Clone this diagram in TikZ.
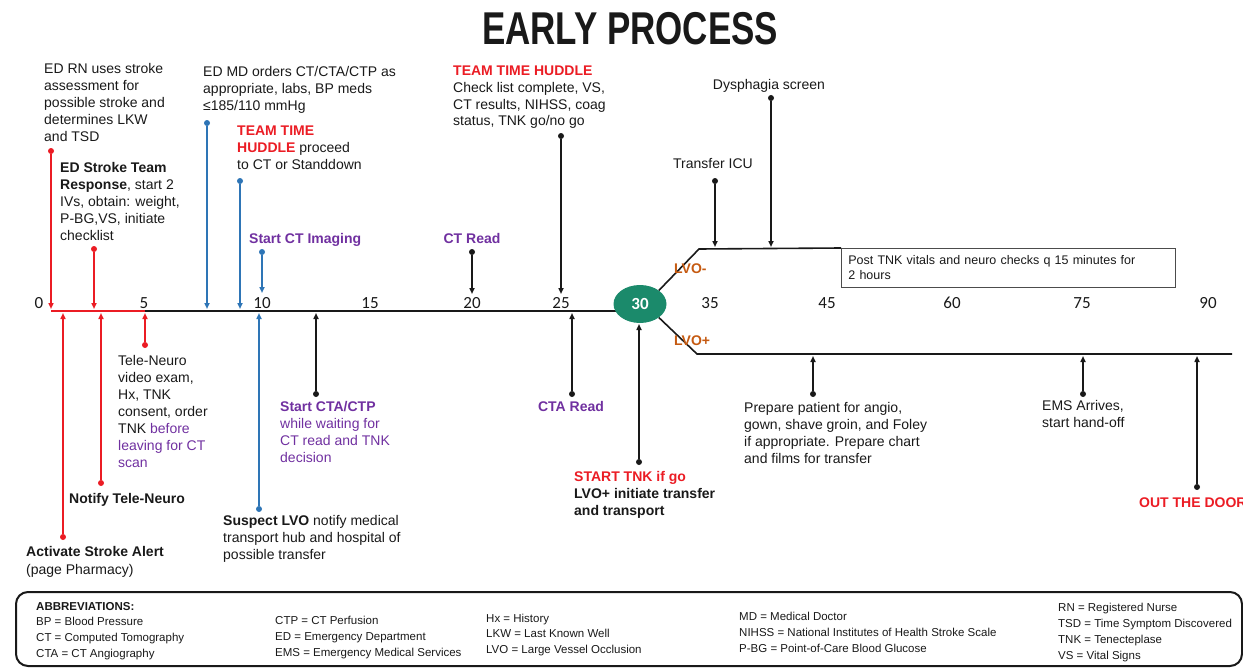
\documentclass[tikz,border=0pt]{standalone}
\usepackage{fontspec}
\setmainfont{Liberation Sans}
\newfontfamily\numfont{Carlito}
\usepackage{xcolor}
\usetikzlibrary{arrows.meta, shapes.geometric}

\definecolor{tred}{RGB}{235,28,36}
\definecolor{tblue}{RGB}{46,117,182}
\definecolor{tpurple}{RGB}{112,48,160}
\definecolor{torange}{RGB}{197,90,17}
\definecolor{tgreen}{RGB}{27,138,107}
\definecolor{tink}{RGB}{25,25,25}

\newcommand{\redbf}[1]{{\color{tred}\bfseries #1}}
\newcommand{\purp}[1]{{\color{tpurple}#1}}

\begin{document}
\begin{tikzpicture}[
  x=1pt, y=-1pt,
  note/.style={
    font=\fontsize{14}{17}\selectfont,
    text=tink,
    align=left,
    anchor=base west,
    inner sep=0pt
  },
  cnote/.style={
    note,
    anchor=base
  },
  block/.style={
    note,
    anchor=north west
  },
  abbr/.style={
    font=\fontsize{11.5}{16}\selectfont,
    text=tink,
    align=left,
    anchor=north west,
    inner sep=0pt
  },
  tick/.style={
    font=\numfont\fontsize{17}{17}\selectfont,
    text=tink,
    inner sep=0pt
  },
  dot/.style={
    circle,
    fill,
    minimum size=6pt,
    inner sep=0pt
  },
  arr/.style={
    -{Triangle[length=6pt,width=5pt]},
    line width=2pt
  },
  axis/.style={
    line width=2pt
  }
]

\useasboundingbox (0,0) rectangle (1243,669);

% Title
\node[
  font=\fontsize{46}{46}\selectfont\bfseries,
  text=tink,
  anchor=base,
  inner sep=0pt
] (title) at (630,45)
{\scalebox{0.76}[1]{EARLY PROCESS}};

% ---------------- Time axis ----------------
\coordinate (ax0) at (51,311);
\coordinate (ax5) at (145,311);
\coordinate (ax30) at (640,311);
\draw[axis, tred] (ax0) -- (ax5);
\draw[axis, tink] (ax5) -- (ax30);

\node[
  ellipse,
  fill=tgreen,
  minimum width=53pt,
  minimum height=38pt,
  inner sep=0pt,
  text=white,
  font=\numfont\bfseries\fontsize{17}{17}\selectfont
] (thirty) at (640,304) {30};

% LVO- branch and LVO+ branch
\node[
  draw=black!70,
  line width=0.8pt,
  font=\fontsize{12.5}{15}\selectfont,
  text=tink,
  align=left,
  anchor=north west,
  text width=320pt,
  inner xsep=7pt,
  inner ysep=0pt,
  minimum height=39pt
] (postbox) at (841,248)
{Post TNK vitals and neuro checks q 15 minutes for\\2 hours};

\coordinate (upbend) at (699,249);
\coordinate (lowbend) at (697,354);
\coordinate (lowend) at (1232,354);
\draw[axis, tink, line width=1.6pt] (thirty.north east) -- (upbend) -- (postbox.north west);
\draw[axis, tink, line width=1.6pt] (thirty.south east) -- (lowbend) -- (lowend);

\node[note, font=\fontsize{14}{17}\selectfont\bfseries, text=torange] (lvominus) at (674,273) {LVO-};
\node[note, font=\fontsize{14}{17}\selectfont\bfseries, text=torange] (lvoplus) at (674,345) {LVO+};

% Minute marks
\node[tick] (t0) at (39,303) {0};
\node[tick] (t5) at (144,303) {5};
\node[tick] (t10) at (262,303) {10};
\node[tick] (t15) at (370,303) {15};
\node[tick] (t20) at (472,303) {20};
\node[tick] (t25) at (561,303) {25};
\node[tick] (t35) at (710,303) {35};
\node[tick] (t45) at (827,303) {45};
\node[tick] (t60) at (952,303) {60};
\node[tick] (t75) at (1082,303) {75};
\node[tick] (t90) at (1208,303) {90};

% ---------------- Events above the axis ----------------
\node[block] (edrn) at (44,63)
{ED RN uses stroke\\assessment for\\possible stroke and\\determines LKW\\and TSD};
\node[dot, tred] (dedrn) at (51,151) {};
\coordinate (eedrn) at (51,309);
\draw[arr, tred] (dedrn) -- (eedrn);

\node[block] (edteam) at (60,162)
{\textbf{ED Stroke Team}\\\textbf{Response}, start 2\\IVs, obtain: weight,\\P-BG,VS, initiate\\checklist};
\node[dot, tred] (dedteam) at (94,249) {};
\coordinate (eedteam) at (94,309);
\draw[arr, tred] (dedteam) -- (eedteam);

\node[block] (edmd) at (203,66)
{ED MD orders CT/CTA/CTP as\\appropriate, labs, BP meds\\≤185/110 mmHg};
\node[dot, tblue] (dedmd) at (207,123) {};
\coordinate (eedmd) at (207,309);
\draw[arr, tblue] (dedmd) -- (eedmd);

\node[block] (huddleA) at (237,126)
{\redbf{TEAM TIME}\\\redbf{HUDDLE} proceed\\to CT or Standdown};
\node[dot, tblue] (dhuddleA) at (240,181) {};
\coordinate (ehuddleA) at (240,309);
\draw[arr, tblue] (dhuddleA) -- (ehuddleA);

\node[note, font=\fontsize{14}{17}\selectfont\bfseries, text=tpurple] (startct) at (249,243) {Start CT Imaging};
\node[dot, tblue] (dstartct) at (262,252) {};
\coordinate (estartct) at (262,293);
\draw[arr, tblue] (dstartct) -- (estartct);

\node[cnote, font=\fontsize{14}{17}\selectfont\bfseries, text=tpurple] (ctread) at (472,243) {CT Read};
\node[dot, tink] (dctread) at (472,252) {};
\coordinate (ectread) at (472,294);
\draw[arr, tink] (dctread) -- (ectread);

\node[block, font=\fontsize{14}{16.7}\selectfont] (huddleB) at (453,66)
{\redbf{TEAM TIME HUDDLE}\\Check list complete, VS,\\CT results, NIHSS, coag\\status, TNK go/no go};
\node[dot, tink] (dhuddleB) at (561,136) {};
\coordinate (ehuddleB) at (561,294);
\draw[arr, tink] (dhuddleB) -- (ehuddleB);

\node[cnote] (transfer) at (713,168) {Transfer ICU};
\node[dot, tink] (dtransfer) at (715,181) {};
\coordinate (etransfer) at (715,247);
\draw[arr, tink] (dtransfer) -- (etransfer);

\node[cnote] (dysph) at (769,89) {Dysphagia screen};
\node[dot, tink] (ddysph) at (771,98) {};
\coordinate (edysph) at (771,247);
\draw[arr, tink] (ddysph) -- (edysph);

% ---------------- Events below the axis ----------------
\node[block, font=\fontsize{14}{18}\selectfont] (activate) at (26,546)
{\textbf{Activate Stroke Alert}\\(page Pharmacy)};
\node[dot, tred] (dactivate) at (63,537) {};
\coordinate (eactivate) at (63,313);
\draw[arr, tred] (dactivate) -- (eactivate);

\node[note] (notify) at (69,503) {\textbf{Notify Tele-Neuro}};
\node[dot, tred] (dnotify) at (101,483) {};
\coordinate (enotify) at (101,313);
\draw[arr, tred] (dnotify) -- (enotify);

\node[block] (teleneuro) at (118,355)
{Tele-Neuro\\video exam,\\Hx, TNK\\consent, order\\TNK \purp{before}\\\purp{leaving for CT}\\\purp{scan}};
\node[dot, tred] (dteleneuro) at (145,345) {};
\coordinate (eteleneuro) at (145,313);
\draw[arr, tred] (dteleneuro) -- (eteleneuro);

\node[block] (suspect) at (223,515)
{\textbf{Suspect LVO} notify medical\\transport hub and hospital of\\possible transfer};
\node[dot, tblue] (dsuspect) at (259,509) {};
\coordinate (esuspect) at (259,313);
\draw[arr, tblue] (dsuspect) -- (esuspect);

\node[block, text=tpurple] (startcta) at (280,401)
{\textbf{Start CTA/CTP}\\while waiting for\\CT read and TNK\\decision};
\node[dot, tink] (dstartcta) at (316,394) {};
\coordinate (estartcta) at (316,313);
\draw[arr, tink] (dstartcta) -- (estartcta);

\node[cnote, font=\fontsize{14}{17}\selectfont\bfseries, text=tpurple] (ctaread) at (571,411) {CTA Read};
\node[dot, tink] (dctaread) at (572,394) {};
\coordinate (ectaread) at (572,313);
\draw[arr, tink] (dctaread) -- (ectaread);

\node[block, font=\fontsize{14}{17}\selectfont\bfseries] (starttnk) at (574,471)
{\redbf{START TNK if go}\\LVO+ initiate transfer\\and transport};
\node[dot, tink] (dstarttnk) at (639,462) {};
\coordinate (estarttnk) at (639,324);
\draw[arr, tink] (dstarttnk) -- (estarttnk);

\node[block] (prepare) at (744,402)
{Prepare patient for angio,\\gown, shave groin, and Foley\\if appropriate. Prepare chart\\and films for transfer};
\node[dot, tink] (dprepare) at (813,394) {};
\coordinate (eprepare) at (813,356);
\draw[arr, tink] (dprepare) -- (eprepare);

\node[block] (ems) at (1042,400) {EMS Arrives,\\start hand-off};
\node[dot, tink] (dems) at (1083,394) {};
\coordinate (eems) at (1083,356);
\draw[arr, tink] (dems) -- (eems);

\node[note, font=\fontsize{14}{17}\selectfont\bfseries, text=tred] (outdoor) at (1139,507) {OUT THE DOOR};
\node[dot, tink] (doutdoor) at (1197,487) {};
\coordinate (eoutdoor) at (1197,356);
\draw[arr, tink] (doutdoor) -- (eoutdoor);

% ---------------- Abbreviations ----------------
\node[
  draw=tink,
  line width=2pt,
  rounded corners=12pt,
  minimum width=1226pt,
  minimum height=74pt,
  inner sep=0pt
] (abbrbox) at (629,629) {};

\node[abbr, anchor=base west] (abbrhead) at (36,610) {\textbf{ABBREVIATIONS:}};
\node[abbr] (abbrA) at (36,616.7)
{BP = Blood Pressure\\CT = Computed Tomography\\CTA = CT Angiography};
\node[abbr] (abbrB) at (275,615.7)
{CTP = CT Perfusion\\ED = Emergency Department\\EMS = Emergency Medical Services};
\node[abbr, font=\fontsize{11.5}{15.5}\selectfont] (abbrC) at (486,613.7)
{Hx = History\\LKW = Last Known Well\\LVO = Large Vessel Occlusion};
\node[abbr] (abbrD) at (739,611.7)
{MD = Medical Doctor\\NIHSS = National Institutes of Health Stroke Scale\\P-BG = Point-of-Care Blood Glucose};
\node[abbr] (abbrE) at (1058,602.7)
{RN = Registered Nurse\\TSD = Time Symptom Discovered\\TNK = Tenecteplase\\VS = Vital Signs};

\end{tikzpicture}
\end{document}
